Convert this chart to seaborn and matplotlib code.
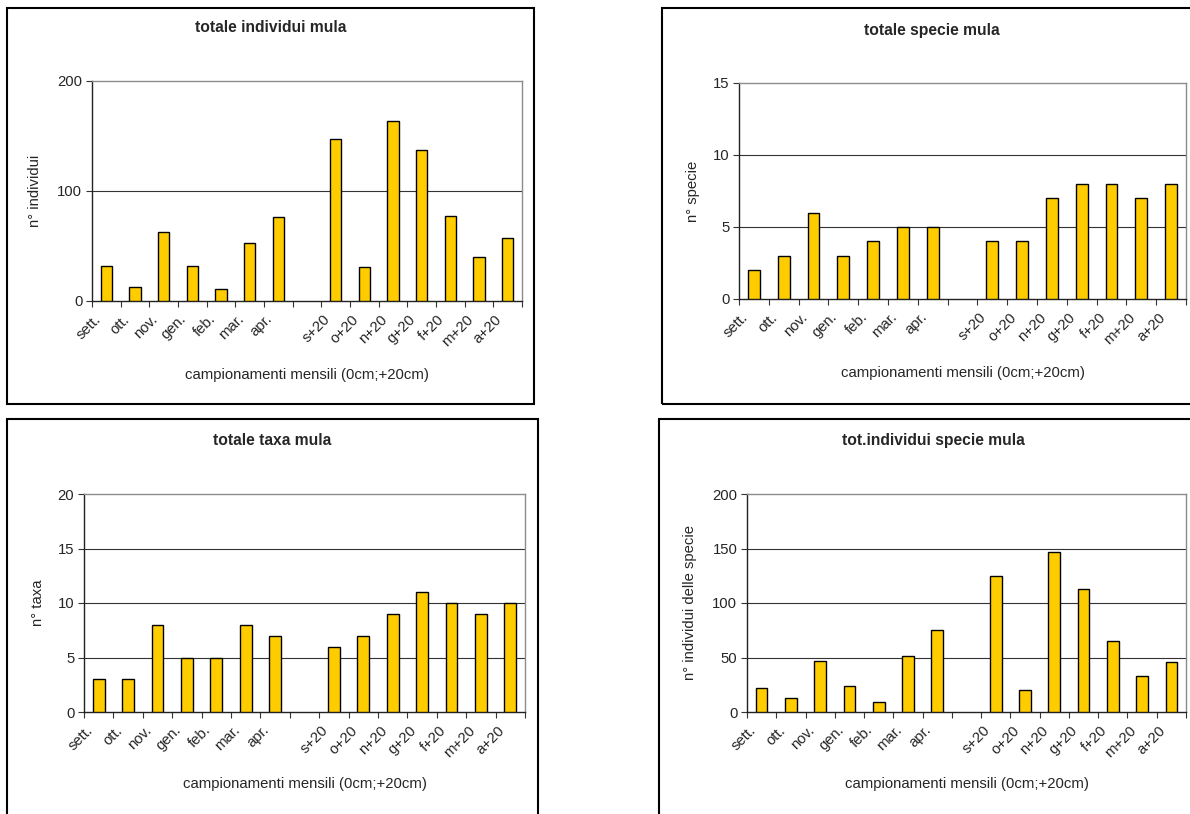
import matplotlib
matplotlib.use("Agg")
import matplotlib.pyplot as plt
import matplotlib.patches as mpatches
import matplotlib.transforms as mtransforms
import numpy as np
import pandas as pd
import seaborn as sns

# sampling months: 0 cm series, a blank slot, then +20 cm series
mesi = ["sett.", "ott.", "nov.", "gen.", "feb.", "mar.", "apr.", "",
        "s+20", "o+20", "n+20", "g+20", "f+20", "m+20", "a+20"]

totale_individui = [32, 13, 63, 32, 11, 53, 76, None,
                    147, 31, 164, 137, 77, 40, 57]
totale_specie = [2, 3, 6, 3, 4, 5, 5, None,
                 4, 4, 7, 8, 8, 7, 8]
totale_taxa = [3, 3, 8, 5, 5, 8, 7, None,
               6, 7, 9, 11, 10, 9, 10]
individui_specie = [22, 13, 47, 24, 9, 51, 75, None,
                    125, 20, 147, 113, 65, 33, 46]

W, H = 1190, 814
BAR_COLOR = "#FFCC00"
FS = 10.75
FS_TITLE = 11.25

sns.set_theme(style="white")
plt.rcParams["font.family"] = ["Liberation Sans", "DejaVu Sans"]

fig = plt.figure(figsize=(W / 100, H / 100), dpi=100)


def fx(px):
    return px / W


def fy(py):
    return 1 - py / H


def panel_box(x0, y0, x1, y1):
    rect = mpatches.Rectangle((fx(x0), fy(y1)), fx(x1) - fx(x0), fy(y0) - fy(y1),
                              transform=fig.transFigure, fill=False,
                              edgecolor="black", linewidth=1.5, zorder=0)
    fig.patches.append(rect)


def panel(values, bbox, ymax, ystep, title, ylabel, title_xy, ylabel_x):
    left, top, right, bottom = bbox
    ax = fig.add_axes([fx(left), fy(bottom), fx(right) - fx(left), fy(top) - fy(bottom)])
    slots = [m if m else " " for m in mesi]
    df = pd.DataFrame({"mese": slots, "valore": values}).dropna()
    sns.barplot(data=df, x="mese", y="valore", order=slots, ax=ax,
                color=BAR_COLOR, edgecolor="black", linewidth=1.0,
                width=0.4, saturation=1, errorbar=None, zorder=3)
    ax.set_xlim(-0.5, len(mesi) - 0.5)
    ax.set_ylim(0, ymax)
    yt = np.arange(0, ymax + ystep / 2, ystep)
    ax.set_yticks(yt)
    ax.set_yticklabels([f"{int(v)}" for v in yt], fontsize=FS)
    for v in yt[1:-1]:
        ax.axhline(v, color="#333333", linewidth=0.8, zorder=1)

    # tick marks sit between slots; category names are drawn as
    # 45-degree labels ending just left of each slot centre
    ax.set_xticks(np.arange(-0.5, len(mesi)))
    ax.set_xticklabels([])
    ax.tick_params(axis="x", length=4, width=0.8, color="#333333",
                   direction="out", bottom=True)
    ax.tick_params(axis="y", length=4, width=0.8, color="#333333",
                   direction="out", left=True, pad=3)
    trans = mtransforms.blended_transform_factory(ax.transData, ax.transAxes)
    shift = mtransforms.ScaledTranslation(-8 / 100, -16 / 100, fig.dpi_scale_trans)
    for i, name in enumerate(mesi):
        if name:
            ax.text(i, 0, name, transform=trans + shift, rotation=45,
                    ha="right", va="center", rotation_mode="anchor",
                    fontsize=FS, clip_on=False)
    ax.set_xlabel("")
    ax.set_ylabel("")

    for side in ("left", "bottom"):
        ax.spines[side].set_color("#222222")
        ax.spines[side].set_linewidth(1.0)
    for side in ("top", "right"):
        ax.spines[side].set_color("#8c8c8c")
        ax.spines[side].set_linewidth(1.0)
    ax.set_facecolor("white")

    fig.text(fx(title_xy[0]), fy(title_xy[1]), title, ha="center", va="center",
             fontsize=FS_TITLE, fontweight="bold")
    fig.text(fx((left + right) / 2), fy(title_xy[2]),
             "campionamenti mensili (0cm;+20cm)", ha="center", va="center",
             fontsize=FS)
    fig.text(fx(ylabel_x), fy((top + bottom) / 2), ylabel, ha="center",
             va="center", rotation=90, fontsize=FS)
    return ax


panel_box(7, 8, 534, 404)
panel_box(662, 8, 1200, 404)
panel_box(7, 419, 538, 830)
panel_box(659, 419, 1200, 830)

panel(totale_individui, (92, 81, 522, 301), 200, 100,
      "totale individui mula", "n° individui", (271, 28, 375), 35)
panel(totale_specie, (739, 83, 1186, 299), 15, 5,
      "totale specie mula", "n° specie", (932, 30, 373), 693)
panel(totale_taxa, (84, 494, 525, 712), 20, 5,
      "totale taxa mula", "n° taxa", (272, 441, 784), 38)
panel(individui_specie, (747, 494, 1186, 712), 200, 50,
      "tot.individui specie mula", "n° individui delle specie", (933, 441, 784), 690)

fig.savefig("out.png", dpi=100, facecolor="white")
